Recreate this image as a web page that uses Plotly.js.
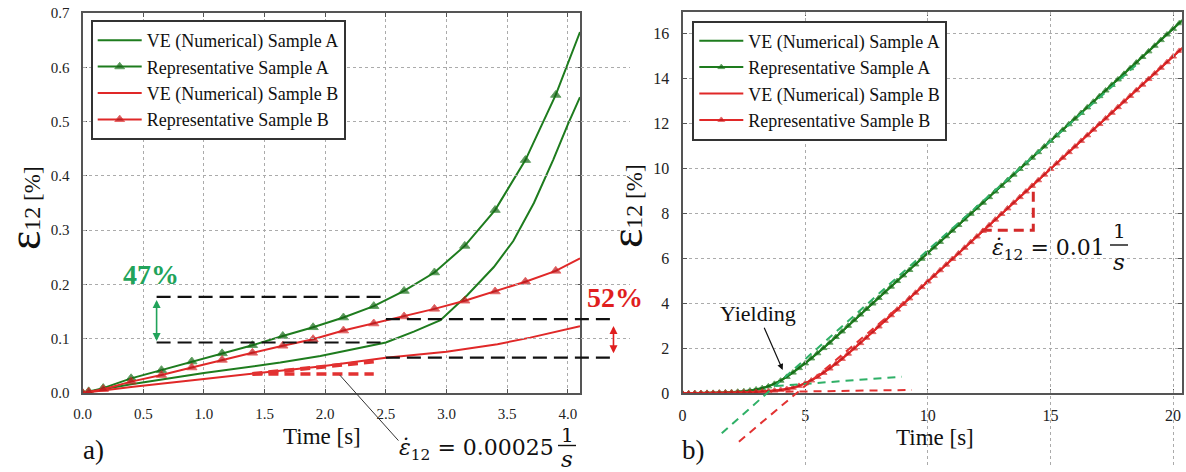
<!DOCTYPE html>
<html>
<head>
<meta charset="utf-8">
<script src="https://cdn.plot.ly/plotly-3.0.1.min.js"></script>
<style>
  html, body { margin: 0; padding: 0; background: #ffffff; }
  #chart { width: 1186px; height: 472px; }
</style>
</head>
<body>
<div id="chart"></div>
<script>
// ---------------- a) shear strain at a strain rate of 0.00025 1/s ----------------
const a_repTime = [0, 0.05, 0.17, 0.4, 0.65, 0.9, 1.15, 1.4, 1.65, 1.9, 2.15, 2.4, 2.65, 2.9, 3.15, 3.4, 3.65, 3.9, 4.1];
const a_repA    = [0, 0.003, 0.009, 0.027, 0.042, 0.058, 0.073, 0.088, 0.105, 0.121, 0.139, 0.160, 0.188, 0.222, 0.271, 0.337, 0.429, 0.549, 0.665];
const a_repB    = [0, 0.002, 0.007, 0.021, 0.033, 0.047, 0.061, 0.074, 0.087, 0.099, 0.115, 0.128, 0.141, 0.155, 0.170, 0.187, 0.205, 0.225, 0.248];
const a_veTimeA = [0, 0.4, 1.0, 1.63, 1.96, 2.5, 2.73, 2.95, 3.17, 3.39, 3.55, 3.72, 3.88, 4.0, 4.1];
const a_veA     = [0, 0.016, 0.037, 0.056, 0.068, 0.093, 0.113, 0.134, 0.180, 0.232, 0.280, 0.350, 0.430, 0.495, 0.545];
const a_veTimeB = [0, 0.4, 1.0, 1.63, 1.96, 2.5, 3.0, 3.42, 3.69, 4.1];
const a_veB     = [0, 0.011, 0.026, 0.041, 0.049, 0.065, 0.076, 0.090, 0.102, 0.123];

// strain levels compared at t = 2.5 s
const a_refTime = 2.5;
const a_levelRepA = 0.177, a_levelVeA = 0.093;
const a_levelRepB = 0.136, a_levelVeB = 0.065;
const a_guideStart = 0.61, a_guideEnd = 4.35;
const a_gainA = '47%', a_gainB = '52%';

// slope marker on the Sample B curve
const a_slopeTime = [1.4, 2.4];
const a_slopeStrain = [0.035, 0.058];
const a_rate = '0.00025';

// ---------------- b) shear strain at a strain rate of 0.01 1/s ----------------
const b_repTime = [0, 0.25, 0.5, 0.75, 1, 1.25, 1.5, 1.75, 2, 2.25, 2.5, 2.75, 3, 3.25, 3.5, 3.75, 4, 4.25, 4.5, 4.75,
  5, 5.25, 5.5, 5.75, 6, 6.25, 6.5, 6.75, 7, 7.25, 7.5, 7.75, 8, 8.25, 8.5, 8.75, 9, 9.25, 9.5, 9.75,
  10, 10.25, 10.5, 10.75, 11, 11.25, 11.5, 11.75, 12, 12.25, 12.5, 12.75, 13, 13.25, 13.5, 13.75, 14, 14.25, 14.5, 14.75,
  15, 15.25, 15.5, 15.75, 16, 16.25, 16.5, 16.75, 17, 17.25, 17.5, 17.75, 18, 18.25, 18.5, 18.75, 19, 19.25, 19.5, 19.75,
  20, 20.25, 20.4];
const b_repA = [0, 0, 0.01, 0.01, 0.02, 0.02, 0.03, 0.04, 0.05, 0.07, 0.09, 0.12, 0.17, 0.23, 0.31, 0.42, 0.56, 0.73, 0.92, 1.12,
  1.33, 1.55, 1.78, 2.01, 2.25, 2.50, 2.75, 3.00, 3.25, 3.50, 3.75, 3.99, 4.24, 4.49, 4.74, 4.99, 5.24, 5.48, 5.73, 5.98,
  6.23, 6.48, 6.73, 6.98, 7.23, 7.48, 7.73, 7.98, 8.23, 8.47, 8.72, 8.97, 9.22, 9.47, 9.72, 9.97, 10.22, 10.47, 10.72, 10.97,
  11.22, 11.46, 11.71, 11.96, 12.21, 12.46, 12.71, 12.96, 13.21, 13.46, 13.71, 13.95, 14.20, 14.45, 14.70, 14.95, 15.20, 15.45, 15.70, 15.95,
  16.20, 16.45, 16.60];
const b_repB = [0, 0, 0, 0.01, 0.01, 0.01, 0.02, 0.02, 0.03, 0.03, 0.04, 0.05, 0.06, 0.08, 0.10, 0.12, 0.15, 0.19, 0.25, 0.33,
  0.44, 0.57, 0.73, 0.91, 1.10, 1.31, 1.53, 1.76, 1.99, 2.23, 2.47, 2.72, 2.97, 3.22, 3.47, 3.72, 3.97, 4.22, 4.47, 4.72,
  4.97, 5.22, 5.47, 5.72, 5.97, 6.22, 6.47, 6.72, 6.97, 7.22, 7.47, 7.72, 7.97, 8.22, 8.47, 8.72, 8.97, 9.22, 9.47, 9.72,
  9.97, 10.22, 10.47, 10.72, 10.97, 11.22, 11.47, 11.72, 11.97, 12.22, 12.47, 12.72, 12.97, 13.22, 13.47, 13.72, 13.97, 14.22, 14.47, 14.72,
  14.97, 15.22, 15.37];
const b_veTimeA = [0, 1, 2, 2.5, 3, 3.5, 4, 4.5, 5, 5.5, 6, 8, 10, 12, 14, 16, 18, 20.4];
const b_veA     = [0, 0.02, 0.05, 0.09, 0.17, 0.31, 0.56, 0.92, 1.33, 1.78, 2.25, 4.24, 6.23, 8.23, 10.22, 12.21, 14.20, 16.60];
const b_veTimeB = [0, 1, 2, 3, 3.5, 4, 4.5, 5, 5.5, 6, 6.5, 7, 8, 10, 12, 14, 16, 18, 20.4];
const b_veB     = [0, 0.01, 0.03, 0.06, 0.10, 0.15, 0.25, 0.44, 0.73, 1.10, 1.53, 1.99, 2.97, 4.97, 6.97, 8.97, 10.97, 12.97, 15.37];

// construction lines of the yield point (plastic slope and elastic slope)
const b_plasticA_t = [1.6, 18.5],  b_plasticA_y = [-1.78, 14.6];
const b_elasticA_t = [3.8, 8.94],  b_elasticA_y = [0.32, 0.74];
const b_plasticB_t = [2.3, 9.0],   b_plasticB_y = [-2.15, 4.0];
const b_elasticB_t = [4.2, 9.35],  b_elasticB_y = [0.07, 0.15];
// rate triangle on the Sample B curve
const b_slopeTime = [12.2, 14.3, 14.3];
const b_slopeStrain = [7.25, 7.25, 9.27];
const b_yieldPoint = [4.1, 1.0];
const b_rate = '0.01';

const names = ['VE (Numerical) Sample A', 'Representative Sample A', 'VE (Numerical) Sample B', 'Representative Sample B'];

// ---------------- styling ----------------
const W = 1186, H = 472;
const px = x => x / W;          // pixel column -> paper x
const py = y => 1 - y / H;      // pixel row -> paper y

const SERIF = 'Liberation Serif';
const MATH = 'DejaVu Serif';
const GREEN = '#1e7c1e', GREEN_MARK = '#156315';
const RED = '#e02828', RED_MARK = '#b8181c';
const GREEN_TXT = '#21a35a', RED_TXT = '#e01e1e';
const GREEN_GUIDE = '#2fb067', RED_GUIDE = '#e23232';

const xDomA = [px(82.6), px(580)],  yDomA = [py(393), py(13)];
const xDomB = [px(682.5), px(1181.7)], yDomB = [py(393.3), py(12)];
const xRangeA = [0, 4.1], yRangeA = [0, 0.7];
const xRangeB = [0, 20.35], yRangeB = [0, 16.95];

// extra invisible axes with the same scale, reaching past the frame
const xDomAext = [xDomA[0], px(630)];
const xRangeAext = [xRangeA[0], xRangeA[0] + (xRangeA[1] - xRangeA[0]) * (xDomAext[1] - xDomAext[0]) / (xDomA[1] - xDomA[0])];
const yDomBext = [py(468), yDomB[1]];
const yRangeBext = [yRangeB[1] - (yRangeB[1] - yRangeB[0]) * (yDomBext[1] - yDomBext[0]) / (yDomB[1] - yDomB[0]), yRangeB[1]];

function frameAxis(extra) {
  return Object.assign({
    showline: true, linecolor: '#555', linewidth: 2, mirror: 'ticks',
    ticks: 'inside', ticklen: 4, tickwidth: 1, tickcolor: '#555',
    showgrid: true, gridcolor: '#ababab', gridwidth: 1, griddash: 'dot',
    zeroline: false, fixedrange: true,
    tickfont: { family: SERIF, size: 15, color: '#222' }
  }, extra);
}

const markerSizes = (arr, s) => arr.map((_, i) => (i === arr.length - 1 ? 0 : s));

const traces = [
  // panel a
  { x: a_veTimeA, y: a_veA, name: names[0], mode: 'lines', line: { color: GREEN, width: 2 }, xaxis: 'x', yaxis: 'y', legend: 'legend' },
  { x: a_repTime, y: a_repA, name: names[1], mode: 'lines+markers', line: { color: GREEN, width: 2 },
    marker: { symbol: 'triangle-up', size: markerSizes(a_repTime, 9), color: GREEN_MARK }, xaxis: 'x', yaxis: 'y', legend: 'legend' },
  { x: a_veTimeB, y: a_veB, name: names[2], mode: 'lines', line: { color: RED, width: 2 }, xaxis: 'x', yaxis: 'y', legend: 'legend' },
  { x: a_repTime, y: a_repB, name: names[3], mode: 'lines+markers', line: { color: RED, width: 2 },
    marker: { symbol: 'triangle-up', size: markerSizes(a_repTime, 9), color: RED_MARK }, xaxis: 'x', yaxis: 'y', legend: 'legend' },

  { x: [a_guideStart, a_refTime], y: [a_levelRepA, a_levelRepA], mode: 'lines', line: { color: '#111', width: 2.2, dash: '14px,7px' }, showlegend: false, xaxis: 'x', yaxis: 'y' },
  { x: [a_guideStart, a_refTime], y: [a_levelVeA, a_levelVeA], mode: 'lines', line: { color: '#111', width: 2.2, dash: '14px,7px' }, showlegend: false, xaxis: 'x', yaxis: 'y' },
  { x: [a_refTime, a_guideEnd], y: [a_levelRepB, a_levelRepB], mode: 'lines', line: { color: '#111', width: 2.2, dash: '14px,7px' }, showlegend: false, xaxis: 'x3', yaxis: 'y' },
  { x: [a_refTime, a_guideEnd], y: [a_levelVeB, a_levelVeB], mode: 'lines', line: { color: '#111', width: 2.2, dash: '14px,7px' }, showlegend: false, xaxis: 'x3', yaxis: 'y' },
  { x: a_slopeTime, y: a_slopeStrain, mode: 'lines', line: { color: RED_GUIDE, width: 4, dash: '10px,6px' }, showlegend: false, xaxis: 'x', yaxis: 'y' },
  { x: a_slopeTime, y: [a_slopeStrain[0], a_slopeStrain[0]], mode: 'lines', line: { color: RED_GUIDE, width: 3.5, dash: '10px,6px' }, showlegend: false, xaxis: 'x', yaxis: 'y' },

  // panel b
  { x: b_veTimeA, y: b_veA, name: names[0], mode: 'lines', line: { color: GREEN, width: 2 }, xaxis: 'x2', yaxis: 'y2', legend: 'legend2' },
  { x: b_repTime, y: b_repA, name: names[1], mode: 'lines+markers', line: { color: GREEN, width: 2 },
    marker: { symbol: 'triangle-up', size: markerSizes(b_repTime, 6), color: GREEN_MARK }, xaxis: 'x2', yaxis: 'y2', legend: 'legend2' },
  { x: b_veTimeB, y: b_veB, name: names[2], mode: 'lines', line: { color: RED, width: 2 }, xaxis: 'x2', yaxis: 'y2', legend: 'legend2' },
  { x: b_repTime, y: b_repB, name: names[3], mode: 'lines+markers', line: { color: RED, width: 2 },
    marker: { symbol: 'triangle-up', size: markerSizes(b_repTime, 6), color: RED_MARK }, xaxis: 'x2', yaxis: 'y2', legend: 'legend2' },

  { x: b_plasticA_t, y: b_plasticA_y, mode: 'lines', line: { color: GREEN_GUIDE, width: 2, dash: '8px,6px' }, showlegend: false, xaxis: 'x2', yaxis: 'y4' },
  { x: b_elasticA_t, y: b_elasticA_y, mode: 'lines', line: { color: GREEN_GUIDE, width: 2, dash: '8px,6px' }, showlegend: false, xaxis: 'x2', yaxis: 'y4' },
  { x: b_plasticB_t, y: b_plasticB_y, mode: 'lines', line: { color: RED_GUIDE, width: 2, dash: '8px,6px' }, showlegend: false, xaxis: 'x2', yaxis: 'y4' },
  { x: b_elasticB_t, y: b_elasticB_y, mode: 'lines', line: { color: RED_GUIDE, width: 2, dash: '8px,6px' }, showlegend: false, xaxis: 'x2', yaxis: 'y4' },
  { x: b_slopeTime, y: b_slopeStrain, mode: 'lines', line: { color: '#d42a2a', width: 3, dash: '10px,6px' }, showlegend: false, xaxis: 'x2', yaxis: 'y2' }
];

function label(text, x, y, size, extra) {
  return Object.assign({
    text: text, xref: 'paper', yref: 'paper', x: px(x), y: py(y),
    xanchor: 'center', yanchor: 'middle', showarrow: false,
    font: { family: SERIF, size: size, color: '#111' }
  }, extra || {});
}

const yTitle = '<span style="font-size:46px">ε</span><span style="font-size:24px">12</span><span style="font-size:23px"> [%]</span>';
const rateText = r => '<i>ε̇</i><sub>12</sub> = ' + r;
const mathFont = size => ({ family: MATH, size: size, color: '#111' });

const annotations = [
  label(yTitle, 25, 208, 24, { textangle: -90 }),
  label(yTitle, 627, 206, 24, { textangle: -90 }),
  label('Time [s]', 322, 436, 23, { height: 26 }),
  label('Time [s]', 935, 437, 23, { height: 26 }),
  label('a)', 93, 450, 27),
  label('b)', 694, 450, 27),
  label('<b>' + a_gainA + '</b>', 151, 274, 28, { font: { family: SERIF, size: 28, color: GREEN_TXT } }),
  label('<b>' + a_gainB + '</b>', 615, 297, 28, { font: { family: SERIF, size: 28, color: RED_TXT } }),

  // strain-rate labels
  label(rateText(a_rate), 556, 449, 22, { xanchor: 'right', font: mathFont(22) }),
  label('1', 567, 435, 20, { font: mathFont(20), height: 14 }),
  label('<i>s</i>', 567, 459, 23, { font: mathFont(23), height: 20 }),
  label(rateText(b_rate), 1107, 249, 22, { xanchor: 'right', font: mathFont(22) }),
  label('1', 1119, 231, 20, { font: mathFont(20), height: 14 }),
  label('<i>s</i>', 1119, 262, 23, { font: mathFont(23), height: 20 }),

  // double arrows marking the differences
  { xref: 'x', yref: 'y', axref: 'x', ayref: 'y', x: a_guideStart, y: a_levelVeA + 0.003, ax: a_guideStart, ay: a_levelRepA - 0.003,
    text: '', showarrow: true, arrowside: 'end+start', arrowhead: 2, arrowsize: 1, arrowwidth: 1.6, arrowcolor: GREEN_TXT, standoff: 0, startstandoff: 0 },
  { xref: 'x3', yref: 'y', axref: 'x3', ayref: 'y', x: 4.376, y: a_levelVeB + 0.008, ax: 4.376, ay: a_levelRepB - 0.01,
    text: '', showarrow: true, arrowside: 'end+start', arrowhead: 2, arrowsize: 1, arrowwidth: 1.6, arrowcolor: RED_TXT, standoff: 0, startstandoff: 0 },

  // leader line to the rate label of panel a
  { xref: 'x', yref: 'y', x: 2.12, y: a_slopeStrain[0] - 0.002, ax: 60, ay: 67, text: '', showarrow: true,
    arrowhead: 0, arrowwidth: 1, arrowcolor: '#333' },

  // yield point
  { xref: 'x2', yref: 'y2', x: b_yieldPoint[0], y: b_yieldPoint[1], ax: -25, ay: -57, text: 'Yielding', showarrow: true,
    arrowhead: 2, arrowsize: 1, arrowwidth: 1.2, arrowcolor: '#111', standoff: 1,
    font: { family: SERIF, size: 22, color: '#111' } }
];

const shapes = [
  { type: 'line', xref: 'paper', yref: 'paper', x0: px(558), x1: px(576), y0: py(445.5), y1: py(445.5), line: { color: '#111', width: 1.4 } },
  { type: 'line', xref: 'paper', yref: 'paper', x0: px(1110), x1: px(1128), y0: py(245), y1: py(245), line: { color: '#111', width: 1.4 } }
];

const legendBase = {
  bgcolor: '#ffffff', bordercolor: '#333', borderwidth: 2,
  font: { family: SERIF, size: 18, color: '#111' },
  itemwidth: 44, xanchor: 'left', yanchor: 'top', tracegroupgap: 0, traceorder: 'normal'
};

const layout = {
  width: W, height: H,
  margin: { l: 0, r: 0, t: 0, b: 0 },
  paper_bgcolor: '#ffffff', plot_bgcolor: 'rgba(0,0,0,0)',
  font: { family: SERIF },
  showlegend: true,
  legend: Object.assign({ x: px(90.7), y: py(20) }, legendBase),
  legend2: Object.assign({ x: px(692.3), y: py(20.5) }, legendBase),
  xaxis: frameAxis({ domain: xDomA, range: xRangeA, anchor: 'y', tickvals: [0, 0.5, 1, 1.5, 2, 2.5, 3, 3.5, 4], tickformat: '.1f', ticklabelstandoff: 6 }),
  yaxis: frameAxis({ domain: yDomA, range: yRangeA, anchor: 'x', dtick: 0.1, tickformat: '.1f', ticklabelstandoff: 8 }),
  xaxis2: frameAxis({ domain: xDomB, range: xRangeB, anchor: 'y2', dtick: 5, ticklabelstandoff: 6, tickfont: { family: SERIF, size: 16, color: '#222' } }),
  yaxis2: frameAxis({ domain: yDomB, range: yRangeB, anchor: 'x2', dtick: 2, ticklabelstandoff: 8, tickfont: { family: SERIF, size: 16, color: '#222' } }),
  xaxis3: { domain: xDomAext, range: xRangeAext, anchor: 'y', visible: false, fixedrange: true },
  yaxis4: { domain: yDomBext, range: yRangeBext, anchor: 'x2', visible: false, fixedrange: true },
  annotations: annotations,
  shapes: shapes
};

Plotly.newPlot('chart', traces, layout, { staticPlot: true, displayModeBar: false });
</script>
</body>
</html>
